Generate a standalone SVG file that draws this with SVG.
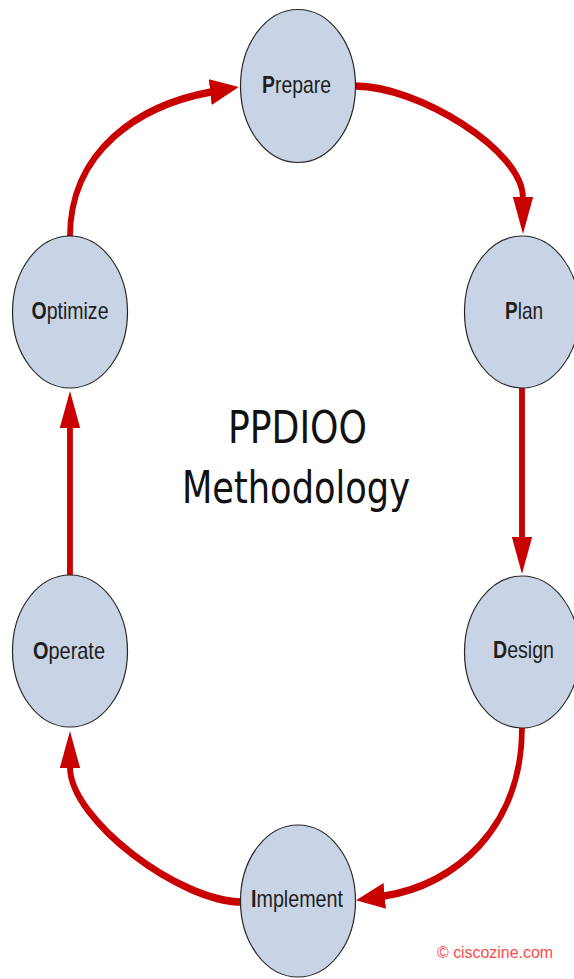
<svg xmlns="http://www.w3.org/2000/svg" width="574" height="979" viewBox="0 0 574 979">
  <style>
    .node { fill: #c8d4e5; stroke: #262626; stroke-width: 1.2; }
    .lbl { font-family: "Liberation Sans", Arial, sans-serif; font-size: 24px; fill: #1e1e1e; text-anchor: middle; }
    .lbl .b { font-weight: bold; }
    .title { font-family: "DejaVu Sans", Verdana, sans-serif; font-size: 45px; fill: #111; text-anchor: middle; }
    .conn { fill: none; stroke: #c80000; stroke-width: 7.5; marker-end: url(#ah); }
    .wm { font-family: "Liberation Sans", Arial, sans-serif; font-size: 17px; fill: #ff4a4a; }
  </style>
  <defs>
    <marker id="ah" markerUnits="userSpaceOnUse" markerWidth="37" markerHeight="26" viewBox="0 0 37 26" refX="1" refY="13" orient="auto">
      <path d="M0,0 L37,13 L0,26 Z" fill="#c80000"/>
    </marker>
  </defs>
  <rect width="574" height="979" fill="#ffffff"/>

  <g id="connectors" transform="scale(0.78 1)">
    <path class="conn" d="M89.7,237 C89.7,150 179.5,105 270.5,92"/>
    <path class="conn" d="M455.8,86 C535,86 670.5,150 670.5,198"/>
    <path class="conn" d="M669.2,388 L669.2,538"/>
    <path class="conn" d="M669.2,728 C669.2,828 583.3,885 492.3,896"/>
    <path class="conn" d="M310.3,902 C230.8,902 89.7,820 89.7,767"/>
    <path class="conn" d="M89.7,575 L89.7,427"/>
  </g>

  <g id="node-prepare">
    <ellipse class="node" cx="298" cy="86" rx="57.5" ry="76.5"/>
    <text class="lbl" x="296.5" y="93" textLength="69" lengthAdjust="spacingAndGlyphs"><tspan class="b">P</tspan>repare</text>
  </g>
  <g id="node-plan">
    <ellipse class="node" cx="522" cy="312" rx="57.5" ry="76"/>
    <text class="lbl" x="524" y="319" textLength="38" lengthAdjust="spacingAndGlyphs"><tspan class="b">P</tspan>lan</text>
  </g>
  <g id="node-design">
    <ellipse class="node" cx="522" cy="652" rx="57.5" ry="76"/>
    <text class="lbl" x="523.5" y="658" textLength="61" lengthAdjust="spacingAndGlyphs"><tspan class="b">D</tspan>esign</text>
  </g>
  <g id="node-implement">
    <ellipse class="node" cx="298" cy="901" rx="57.5" ry="76"/>
    <text class="lbl" x="297" y="907" textLength="92" lengthAdjust="spacingAndGlyphs"><tspan class="b">I</tspan>mplement</text>
  </g>
  <g id="node-operate">
    <ellipse class="node" cx="70" cy="651" rx="57.5" ry="76"/>
    <text class="lbl" x="69" y="659" textLength="72" lengthAdjust="spacingAndGlyphs"><tspan class="b">O</tspan>perate</text>
  </g>
  <g id="node-optimize">
    <ellipse class="node" cx="70" cy="312" rx="57.5" ry="76"/>
    <text class="lbl" x="70" y="319" textLength="77" lengthAdjust="spacingAndGlyphs"><tspan class="b">O</tspan>ptimize</text>
  </g>

  <g id="title">
    <text class="title" x="297.5" y="443" textLength="139" lengthAdjust="spacingAndGlyphs">PPDIOO</text>
    <text class="title" x="296" y="503" textLength="228" lengthAdjust="spacingAndGlyphs">Methodology</text>
  </g>

  <text class="wm" x="437" y="958" textLength="116" lengthAdjust="spacingAndGlyphs">© ciscozine.com</text>
</svg>
